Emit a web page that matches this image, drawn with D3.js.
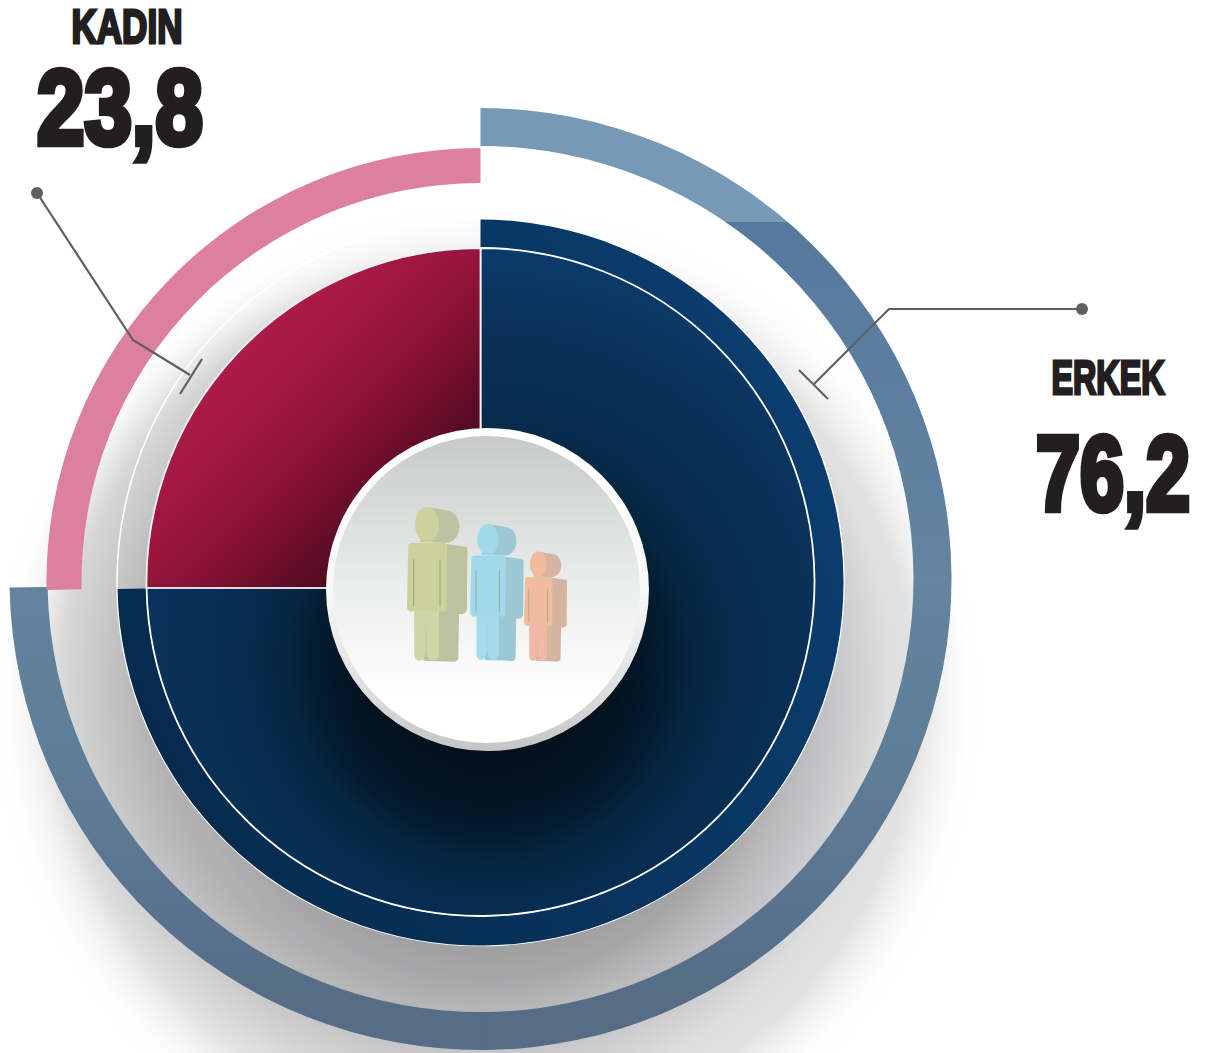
<!DOCTYPE html>
<html>
<head>
<meta charset="utf-8">
<script src="https://cdn.jsdelivr.net/npm/d3@7"></script>
<style>
  html, body { margin: 0; padding: 0; background: #fff; overflow: hidden; }
  text { font-family: "Liberation Sans Narrow", "Liberation Sans", sans-serif; font-weight: bold; fill: #231f20; stroke: #231f20; stroke-linejoin: miter; }
</style>
</head>
<body>
<div id="svg-container"></div>
<script>
let categories = ['ERKEK', 'KADIN'];
let valueLabels = ['76,2', '23,8'];
let shares = [74.71, 25.29];

let w = 1213;
let h = 1053;

let svg = d3.select('#svg-container').
append('svg').
attr('width', w).
attr('height', h).
style('display', 'block');

let defs = svg.append('defs');

function gradient(id, type, attrs, stops, center) {
  let g = defs.append(type).attr('id', id).attr('gradientUnits', 'userSpaceOnUse');
  Object.keys(attrs).forEach(k => g.attr(k, attrs[k]));
  // arcs sit in a translated group, gradient coords stay in page pixels
  if (center) g.attr('gradientTransform', 'translate(' + -center[0] + ',' + -center[1] + ')');
  stops.forEach(s => {
    let st = g.append('stop').attr('offset', s[0]).attr('stop-color', s[1]);
    if (s[2] !== undefined) st.attr('stop-opacity', s[2]);
  });
}

gradient('shadow', 'radialGradient', { cx: 487, cy: 700, r: 500 }, [
[0, '#bebec0', 1], [0.5, '#bebec0', 1], [0.62, '#d1d1d3', 1], [0.7, '#d6d6d8', 1], [0.86, '#e2e2e3', 1], [1, '#ffffff', 0]]);
gradient('glow', 'radialGradient', { cx: 460, cy: 680, r: 430 }, [
[0, '#000', 0.16], [0.72, '#000', 0.16], [1, '#000', 0]]);
gradient('outerBlue', 'linearGradient', { x1: 0, y1: 108, x2: 0, y2: 1050 }, [
[0, '#7699b5'], [0.121, '#7699b5'], [0.121, '#55799f'], [0.5, '#64849f'], [0.72, '#5e7c96'], [0.95, '#566c87'], [1, '#566c87']], [480.5, 579]);
gradient('darkRing', 'linearGradient', { x1: 120, y1: 800, x2: 840, y2: 480 }, [
[0, '#05294c'], [1, '#0b3d6e']], [480.5, 582.5]);
gradient('darkWedge', 'radialGradient', { cx: 490, cy: 660, r: 480 }, [
[0, '#020f1b'], [0.27, '#03121f'], [0.37, '#041c32'], [0.42, '#062640'], [0.52, '#072c50'], [0.69, '#0a3159'], [0.84, '#0b3a68'], [1, '#0c3f70']], [480.5, 582]);
gradient('redWedge', 'linearGradient', { x1: 250, y1: 250, x2: 460, y2: 460 }, [
[0, '#ac1b48'], [0.24, '#ac1b48'], [0.52, '#99153c'], [0.71, '#7e1033'], [0.94, '#560b24'], [1, '#4c0a20']], [480.5, 582]);
gradient('hubRim', 'linearGradient', { x1: 0, y1: 428, x2: 0, y2: 751 }, [
[0, '#ffffff'], [0.5, '#f8f8f8'], [0.8, '#e0e0e0'], [1, '#c4c4c4']]);
gradient('hubFace', 'linearGradient', { x1: 0, y1: 436, x2: 0, y2: 743 }, [
[0, '#c8c9c9'], [0.5, '#eceded'], [0.85, '#ffffff'], [1, '#ffffff']]);

// the red wedge has a level bottom edge in the picture, not a radial one
defs.append('clipPath').attr('id', 'redClip').
append('rect').attr('width', 482).attr('height', 588);

let slices = d3.pie().sort(null).value(d => d)(shares);

// soft shadow under the whole thing
svg.append('circle').attr('cx', 487).attr('cy', 700).attr('r', 500).attr('fill', 'url(#shadow)');
svg.append('circle').attr('cx', 460).attr('cy', 680).attr('r', 430).attr('fill', 'url(#glow)');

function ring(parent, cx, cy, inner, outer, slice, fill) {
  return parent.append('path').
  attr('transform', 'translate(' + cx + ',' + cy + ')').
  attr('d', d3.arc().innerRadius(inner).outerRadius(outer)(slice)).
  attr('fill', fill);
}

// outer bands
ring(svg, 480.5, 579, 433, 471, slices[0], 'url(#outerBlue)');
ring(svg, 480.5, 582, 399, 434, slices[1], '#dd7f9e');

// faint seam at the foot of the blue band
svg.append('line').attr('x1', 484.5).attr('x2', 484.5).attr('y1', 1013).attr('y2', 1050).
attr('stroke', '#4f6780').attr('stroke-width', 1);

// white hairline round the dark ring
svg.append('circle').attr('cx', 480.5).attr('cy', 582).attr('r', 363.5).
attr('fill', 'none').attr('stroke', '#fff').attr('stroke-width', 1.6);

// dark ring and main wedges
ring(svg, 480.5, 582.5, 334, 363, slices[0], 'url(#darkRing)');
ring(svg, 480.5, 582, 0, 334, slices[0], 'url(#darkWedge)').attr('stroke', '#fff').attr('stroke-width', 1.8);
let redSlice = { startAngle: slices[1].startAngle - 0.05, endAngle: slices[1].endAngle };
ring(svg.append('g').attr('clip-path', 'url(#redClip)'), 480.5, 582, 0, 334, redSlice, 'url(#redWedge)').
attr('stroke', '#f2f2f2').attr('stroke-width', 1.8);
svg.append('line').attr('x1', 147).attr('x2', 330).attr('y1', 588).attr('y2', 588).
attr('stroke', '#dcdcdc').attr('stroke-width', 1.8);

// hub
svg.append('circle').attr('cx', 487.5).attr('cy', 589.5).attr('r', 161.5).attr('fill', 'url(#hubRim)');
svg.append('circle').attr('cx', 486.5).attr('cy', 589.5).attr('r', 153.5).attr('fill', 'url(#hubFace)');

// the three little people, drawn once and scaled
function person(ox, oy, s, front, side, legs) {
  let g = svg.append('g').
  attr('transform', 'translate(' + (320 + ox / 3) + ',' + (420 + oy / 3) + ') scale(' + s / 3 + ') translate(-283,-722)');
  g.append('path').attr('fill', side).
  attr('d', 'M322,262 L388,272 Q417,282 418,320 Q417,358 385,368 L300,366 Z');
  g.append('path').attr('fill', side).
  attr('d', 'M375,372 L438,380 Q442,381 442,392 L441,568 Q438,582 425,582 L417,582 L415,715 Q412,726 400,725 L310,722 L320,500 Z');
  g.append('path').attr('fill', front).
  attr('d', 'M265,378 Q265,368 280,368 L372,368 Q381,370 381,380 L380,565 Q378,577 368,575 L357,572 L357,705 Q355,722 338,722 Q322,720 320,700 L318,575 L316,700 Q312,722 298,722 Q285,720 283,705 L283,572 L272,576 Q260,572 261,555 Z');
  g.append('path').attr('fill', legs).attr('opacity', 0.6).
  attr('d', 'M283,572 L283,705 Q285,720 298,722 Q312,722 316,700 L318,575 L320,700 Q322,720 338,722 Q355,722 357,705 L357,572 Z');
  g.append('ellipse').attr('cx', 321).attr('cy', 314).attr('rx', 36).attr('ry', 53).attr('fill', front);
  g.selectAll('line').data([281, 360]).enter().append('line').
  attr('x1', d => d).attr('x2', d => d).attr('y1', 418).attr('y2', 560).
  attr('stroke', '#9b9d90').attr('stroke-width', 4).attr('opacity', 0.7);
}

person(283, 722, 1, '#cbd29b', '#bdc39f', '#d2d9ab');
person(470, 720, 0.885, '#a2d9ea', '#9cc7d3', '#a6dcec');
person(628, 722, 0.71, '#efbc9e', '#d6b5a0', '#f1b5a6');

// leaders
let leaders = [
[[1082, 309], [889, 309], [814, 384]],
[[37, 193], [133, 340], [190, 375]]];
let ticks = [
[[799, 370], [828, 399]],
[[180, 394], [202, 359]]];
let line = d3.line();

svg.selectAll('.leader').
data(leaders).
enter().
append('path').
attr('class', 'leader').
attr('d', d => line(d)).
attr('fill', 'none').
attr('stroke', '#5d5f60').
attr('stroke-width', 2.2);

svg.selectAll('.tick').
data(ticks).
enter().
append('path').
attr('class', 'tick').
attr('d', d => line(d)).
attr('stroke', '#5d5f60').
attr('stroke-width', 2.2);

svg.selectAll('.dot').
data(leaders).
enter().
append('circle').
attr('class', 'dot').
attr('cx', d => d[0][0]).
attr('cy', d => d[0][1]).
attr('r', 6).
attr('fill', '#5d5f60');

// labels, squeezed sideways to the width they have in the picture
function fitText(cls, labels, boxes, size, strokeW) {
  svg.selectAll('.' + cls).
  data(labels).
  enter().
  append('text').
  attr('class', cls).
  attr('font-size', size).
  attr('stroke-width', strokeW).
  text(d => d).
  attr('transform', function (d, i) {
    let sx = boxes[i][2] / this.getComputedTextLength();
    return 'translate(' + boxes[i][0] + ',' + boxes[i][1] + ') scale(' + sx + ',1)';
  });
}

fitText('name', categories, [[1051.5, 393.5, 113], [71.5, 42.5, 111]], 49, 3);
fitText('value', valueLabels, [[1036, 510, 154], [37, 144, 166]], 105, 6.5);
</script>
</body>
</html>
